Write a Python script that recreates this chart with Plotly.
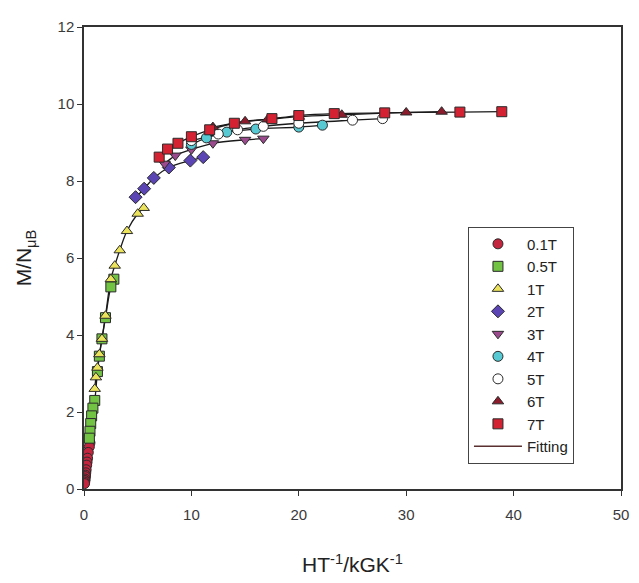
import plotly.graph_objects as go

# ---- data (x = H/T in kG/K, y = M/NμB) ----
x_01T = [0.556, 0.5, 0.4, 0.333, 0.286, 0.25, 0.2, 0.167, 0.143, 0.125, 0.1, 0.083, 0.067, 0.05]
y_01T = [1.2, 1.1, 0.95, 0.8, 0.7, 0.62, 0.5, 0.42, 0.36, 0.32, 0.26, 0.22, 0.18, 0.14]

x_05T = [2.78, 2.5, 2.0, 1.67, 1.43, 1.25, 1.0, 0.83, 0.71, 0.625, 0.556, 0.5]
y_05T = [5.45, 5.25, 4.45, 3.9, 3.45, 3.05, 2.3, 2.1, 1.9, 1.7, 1.5, 1.32]

x_1T = [5.56, 5.0, 4.0, 3.33, 2.86, 2.5, 2.0, 1.67, 1.43, 1.25, 1.11, 1.0]
y_1T = [7.3, 7.15, 6.7, 6.2, 5.8, 5.45, 4.5, 3.9, 3.5, 3.15, 2.9, 2.6]

x_2T = [4.8, 5.6, 6.5, 7.9, 9.9, 11.1]
y_2T = [7.58, 7.8, 8.08, 8.35, 8.53, 8.62]

x_3T = [7.5, 8.5, 10.0, 12.0, 15.0, 16.7]
y_3T = [8.45, 8.66, 8.82, 8.98, 9.07, 9.1]

x_4T = [10.0, 11.4, 13.3, 16.0, 20.0, 22.2]
y_4T = [8.95, 9.12, 9.27, 9.35, 9.4, 9.45]

x_5T = [10.0, 12.5, 14.3, 16.7, 20.0, 25.0, 27.8]
y_5T = [9.05, 9.22, 9.33, 9.42, 9.5, 9.58, 9.62]

x_6T = [12.0, 15.0, 17.1, 20.0, 24.0, 30.0, 33.3]
y_6T = [9.4, 9.55, 9.6, 9.67, 9.72, 9.78, 9.8]

x_7T = [7.0, 7.78, 8.75, 10.0, 11.7, 14.0, 17.5, 20.0, 23.3, 28.0, 35.0, 38.9]
y_7T = [8.62, 8.83, 8.98, 9.15, 9.33, 9.5, 9.62, 9.7, 9.75, 9.77, 9.79, 9.8]

series_names = ["0.1T", "0.5T", "1T", "2T", "3T", "4T", "5T", "6T", "7T"]
series_x = [x_01T, x_05T, x_1T, x_2T, x_3T, x_4T, x_5T, x_6T, x_7T]
series_y = [y_01T, y_05T, y_1T, y_2T, y_3T, y_4T, y_5T, y_6T, y_7T]
symbols = ["circle", "square", "triangle-up", "diamond", "triangle-down",
           "circle", "circle", "triangle-up", "square"]
colors = ["#c3253f", "#72c244", "#ece35c", "#5b45b5", "#9b4a8e",
          "#56c9d2", "#ffffff", "#8c1b2c", "#d42233"]

x_ticks = [0, 10, 20, 30, 40, 50]
y_ticks = [0, 2, 4, 6, 8, 10, 12]

fig = go.Figure()

# fitting curves (under markers)
for xs, ys in zip(series_x, series_y):
    fig.add_trace(go.Scatter(x=xs, y=ys, mode="lines", line=dict(color="#1a1a1a", width=1.3, shape="spline"),
                             showlegend=False, hoverinfo="skip"))

for name, xs, ys, sym, col in zip(series_names, series_x, series_y, symbols, colors):
    fig.add_trace(go.Scatter(x=xs, y=ys, mode="markers", name=name,
                             marker=dict(symbol=sym, size=10, color=col,
                                         line=dict(color="#2a2a2a", width=1))))

fig.add_trace(go.Scatter(x=[None], y=[None], mode="lines", name="Fitting",
                         line=dict(color="#5a3030", width=1.5)))

axis_common = dict(
    showline=True, linecolor="#333333", linewidth=1.5, mirror=True,
    ticks="outside", ticklen=5, tickcolor="#333333", tickwidth=1,
    showgrid=False, zeroline=False,
    tickfont=dict(family="Liberation Sans, Arial", size=15, color="#3a3a3a"),
)

fig.update_layout(
    width=631, height=575,
    margin=dict(l=76, r=10, t=11, b=91),
    paper_bgcolor="white", plot_bgcolor="white",
    font=dict(family="Liberation Sans, Arial", color="#222222"),
    xaxis=dict(range=[0, 50], tickvals=x_ticks, ticktext=[str(v) for v in x_ticks],
               ticklabelstandoff=6,
               title=dict(text="HT<sup>-1</sup>/kGK<sup>-1</sup>", font=dict(size=21), standoff=36),
               **axis_common),
    yaxis=dict(range=[0, 12], tickvals=y_ticks, ticktext=[str(v) for v in y_ticks],
               title=dict(text="M/N<sub>μB</sub>", font=dict(size=21), standoff=20),
               **axis_common),
    legend=dict(x=0.715, y=0.055, xanchor="left", yanchor="bottom",
                bgcolor="white", bordercolor="#444444", borderwidth=1,
                font=dict(family="Liberation Sans, Arial", size=15, color="#222222"),
                itemwidth=48, tracegroupgap=0),
    showlegend=True,
)

fig.write_html("out.html")
